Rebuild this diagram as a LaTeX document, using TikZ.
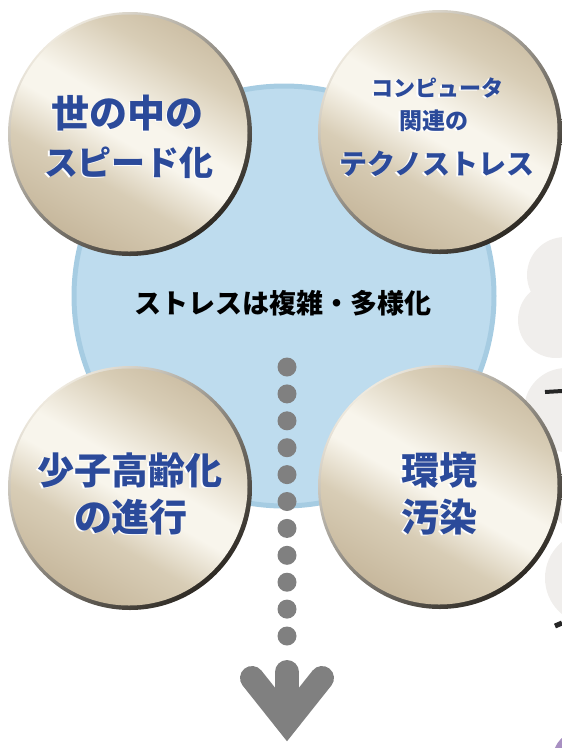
\documentclass[tikz,border=0pt]{standalone}
\usepackage{fontspec}
\newfontfamily\jp{Noto Sans CJK JP}
\definecolor{bluefill}{HTML}{BEDCEE}
\definecolor{blueedge}{HTML}{A6CCE2}
\definecolor{coinA}{HTML}{C3B397}
\definecolor{coinB}{HTML}{D8CDB6}
\definecolor{coinC}{HTML}{F8F5EC}
\definecolor{rimlight}{HTML}{EEE9DE}
\definecolor{rimdark}{HTML}{2E2A24}
\definecolor{textblue}{HTML}{2B4A9A}
\definecolor{dotgray}{HTML}{808080}
\definecolor{blobgray}{HTML}{F0EEEC}
\definecolor{violet1}{HTML}{A890C2}
\pgfdeclareverticalshading{coinshade}{100bp}{color(0bp)=(coinA); color(22bp)=(coinA); color(38bp)=(coinB); color(48bp)=(coinC); color(54bp)=(coinC); color(68bp)=(coinB); color(82bp)=(coinA); color(100bp)=(coinA)}
\tikzset{
  coinrim/.style={circle, inner sep=0pt, minimum size=244pt, shading=axis, top color=rimlight, bottom color=rimdark, shading angle=40},
  coinface/.style={circle, inner sep=0pt, minimum size=237pt, shading=coinshade, shading angle=-30},
  cointxt/.style={text=textblue, anchor=base, inner sep=0pt},
  dotnode/.style={circle, fill=dotgray, inner sep=0pt, minimum size=19pt},
  arrowstroke/.style={draw=dotgray, line width=24pt, line cap=round, line join=miter},
}
\newcommand{\coinline}[4]{% name, position, size, text (with white offset shadow)
  \node[cointxt, font=\jp\bfseries\fontsize{#3}{#3}\selectfont] (#1) at (#2)
    {\rlap{\kern-1.8pt\raisebox{-1.8pt}{\textcolor{white}{#4}}}#4};}
\begin{document}
\begin{tikzpicture}[x=1pt,y=-1pt]
\useasboundingbox (0,0) rectangle (562,748);
\begin{scope}
\clip (0,0) rectangle (562,748);
% neighbouring figure fragments on the right edge
\fill[blobgray] (565,275) circle (38);
\fill[blobgray] (556,320) circle (38);
\fill[blobgray] (566,410) circle (42);
\fill[blobgray] (580,500) circle (30);
\fill[blobgray] (592,578) circle (47);
\draw[black!85, line width=4pt] (545,392) -- (562,391);
\draw[black!85, line width=5pt] (555,626) -- (562,623);
\fill[violet1] (580,758) circle (27);
% big blue circle
\node[circle, fill=bluefill, draw=blueedge, line width=5pt, minimum size=420pt, inner sep=0pt] (hub) at (284,296) {};
% coins
\node[coinrim] (tlr) at (130,134) {};
\node[coinface] (tl) at (129,133) {};
\node[coinrim] (trr) at (440,132) {};
\node[coinface] (tr) at (439,131) {};
\node[coinrim] (blr) at (130,488) {};
\node[coinface] (bl) at (129,487) {};
\node[coinrim] (brr) at (440,487) {};
\node[coinface] (br) at (439,486) {};
\end{scope}
% coin texts
\coinline{tla}{128,127}{38}{世の中の}
\coinline{tlb}{129,175}{34}{スピード化}
\coinline{tra}{437,96}{22}{コンピュータ}
\coinline{trb}{434,129}{23}{関連の}
\coinline{trc}{437,174}{28}{テクノストレス}
\coinline{bla}{130,484}{37}{少子高齢化}
\coinline{blb}{131,531}{38}{の進行}
\coinline{bra}{439,484}{38}{環境}
\coinline{brb}{439,531}{38}{汚染}
% centre text
\node[anchor=base, inner sep=0pt, font=\jp\bfseries\fontsize{27}{27}\selectfont] (ctr) at (283,313) {ストレスは複雑・多様化};
% dotted line and arrow
\foreach \i in {0,...,10} \node[dotnode] (d\i) at (287,{367+26.9*\i}) {};
\coordinate (al) at (252,678);
\coordinate (ar) at (322,678);
\coordinate (atip) at (287,722);
\coordinate (astem) at (287,672);
\draw[arrowstroke] (al) -- (atip) -- (ar);
\draw[arrowstroke, line cap=butt] (astem) -- (atip);
\fill[dotgray] (astem) circle (12);
\end{tikzpicture}
\end{document}
